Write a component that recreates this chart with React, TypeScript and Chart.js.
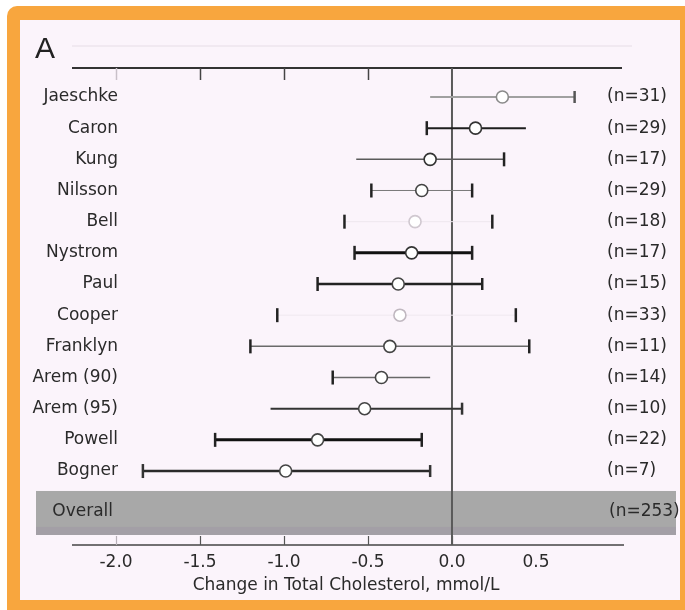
import React, { useEffect, useRef } from 'react';
import { Chart, registerables } from 'chart.js';

Chart.register(...registerables);

const W = 685;
const H = 610;

// ---- data ----
const studies = ['Jaeschke', 'Caron', 'Kung', 'Nilsson', 'Bell', 'Nystrom', 'Paul', 'Cooper', 'Franklyn', 'Arem (90)', 'Arem (95)', 'Powell', 'Bogner'];
const sampleSizes = ['(n=31)', '(n=29)', '(n=17)', '(n=29)', '(n=18)', '(n=17)', '(n=15)', '(n=33)', '(n=11)', '(n=14)', '(n=10)', '(n=22)', '(n=7)'];
const means = [0.30, 0.14, -0.13, -0.18, -0.22, -0.24, -0.32, -0.31, -0.37, -0.42, -0.52, -0.80, -0.99];
const lower = [-0.13, -0.15, -0.57, -0.48, -0.64, -0.58, -0.80, -1.04, -1.20, -0.71, -1.08, -1.41, -1.84];
const upper = [0.73, 0.44, 0.31, 0.12, 0.24, 0.12, 0.18, 0.38, 0.46, -0.13, 0.06, -0.18, -0.13];
const overallLabel = 'Overall';
const overallN = '(n=253)';
const xTicks = [-2.0, -1.5, -1.0, -0.5, 0.0, 0.5];
const xTitle = 'Change in Total Cholesterol, mmol/L';
const panelLabel = 'A';

// ---- styles ----
const lineColors = ['#a0a0a0', '#1e1e1e', '#5a5a5a', '#7a7a7a', '#eee7ee', '#111111', '#222222', '#efe8ef', '#6a6a6a', '#686868', '#333333', '#111111', '#2a2a2a'];
const lineWidths = [2, 2, 1.5, 1, 1, 3, 2.5, 1, 1.5, 1.5, 2, 3, 2.5];
const capLeft = [0, 7, 0, 7, 7, 7, 7, 7, 7, 7, 0, 7, 7];
const capRight = [6, 0, 7, 7, 7, 7, 6, 7, 7, 0, 6, 7, 6];
const capColors = ['#555555', '#222222', '#222222', '#222222', '#222222', '#222222', '#222222', '#222222', '#222222', '#222222', '#333333', '#222222', '#333333'];
const pointBorders = ['#8a8a8a', '#333333', '#333333', '#444444', '#d0c8d0', '#333333', '#444444', '#c0b8c0', '#444444', '#444444', '#444444', '#444444', '#444444'];

const FONT = "'DejaVu Sans', sans-serif";

const forestPlugin = {
  id: 'forestDecor',
  beforeDraw(chart: any) {
    const ctx = chart.ctx;
    ctx.save();
    ctx.fillStyle = '#ffffff';
    ctx.fillRect(0, 0, W, H);
    ctx.fillStyle = '#f8a63e';
    ctx.beginPath();
    (ctx as any).roundRect(7, 6, W + 20, H + 20, 10);
    ctx.fill();
    ctx.fillStyle = '#fbf4fb';
    ctx.fillRect(20, 20, 660, 580);
    ctx.restore();
  },
  beforeDatasetsDraw(chart: any) {
    const { ctx, chartArea: a, scales } = chart;
    const x = scales.x;
    const y = scales.y;
    ctx.save();
    // overall band
    const bTop = y.getPixelForValue(12.64);
    const bBot = y.getPixelForValue(14.05);
    ctx.fillStyle = '#a8a8a8';
    ctx.fillRect(36, bTop, 640, bBot - bTop);
    ctx.fillStyle = '#a39fa6';
    ctx.fillRect(36, bBot - 8, 640, 8);
    // faint upper line
    ctx.strokeStyle = '#e6dde6';
    ctx.lineWidth = 1;
    ctx.beginPath();
    ctx.moveTo(a.left, a.top - 22);
    ctx.lineTo(a.right + 8, a.top - 22);
    ctx.stroke();
    // top line
    ctx.strokeStyle = '#333333';
    ctx.lineWidth = 2;
    ctx.beginPath();
    ctx.moveTo(a.left, a.top);
    ctx.lineTo(a.right - 2, a.top);
    ctx.stroke();
    // bottom line
    ctx.strokeStyle = '#444444';
    ctx.lineWidth = 1.5;
    ctx.beginPath();
    ctx.moveTo(a.left, a.bottom);
    ctx.lineTo(a.right, a.bottom);
    ctx.stroke();
    // ticks
    xTicks.forEach((t) => {
      const px = Math.round(x.getPixelForValue(t)) + 0.5;
      if (t < 0) {
        ctx.strokeStyle = t <= -2 ? '#c8c0c8' : '#444444';
        ctx.lineWidth = 1.5;
        ctx.beginPath();
        ctx.moveTo(px, a.top);
        ctx.lineTo(px, a.top + 12);
        ctx.stroke();
      }
      if (t <= 0) {
        ctx.strokeStyle = t <= -2 ? '#b8b0b8' : '#555555';
        ctx.lineWidth = 1.2;
        ctx.beginPath();
        ctx.moveTo(px, a.bottom);
        ctx.lineTo(px, a.bottom - 9);
        ctx.stroke();
      }
    });
    // zero line
    const x0 = x.getPixelForValue(0);
    ctx.strokeStyle = '#5a5a5a';
    ctx.lineWidth = 2;
    ctx.beginPath();
    ctx.moveTo(x0, a.top);
    ctx.lineTo(x0, a.bottom);
    ctx.stroke();
    ctx.restore();
  },
  afterDatasetsDraw(chart: any) {
    const { ctx, chartArea: a, scales } = chart;
    const x = scales.x;
    const y = scales.y;
    ctx.save();
    ctx.fillStyle = '#2a2a2a';
    ctx.font = `17px ${FONT}`;
    ctx.textBaseline = 'middle';
    studies.forEach((s, i) => {
      const py = y.getPixelForValue(i);
      ctx.textAlign = 'right';
      ctx.fillText(s, 118, py);
      ctx.textAlign = 'left';
      ctx.fillText(sampleSizes[i], 607, py);
    });
    const oy = y.getPixelForValue(13.3);
    ctx.textAlign = 'right';
    ctx.fillText(overallLabel, 113, oy);
    ctx.textAlign = 'left';
    ctx.fillText(overallN, 609, oy);
    // tick labels
    ctx.textAlign = 'center';
    xTicks.forEach((t) => {
      ctx.fillText(t.toFixed(1), x.getPixelForValue(t), a.bottom + 18);
    });
    // axis title
    ctx.fillText(xTitle, 346, a.bottom + 41);
    // panel label
    ctx.font = `30px 'Liberation Sans', sans-serif`;
    ctx.textAlign = 'left';
    ctx.textBaseline = 'alphabetic';
    ctx.fillStyle = '#222222';
    ctx.fillText(panelLabel, 35, 58);
    ctx.restore();
  },
};

export default function App() {
  const ref = useRef<HTMLCanvasElement | null>(null);
  useEffect(() => {
    if (!ref.current) return;
    const datasets: any[] = [];
    datasets.push({
      type: 'scatter',
      label: 'mean',
      data: means.map((m, i) => ({ x: m, y: i })),
      pointRadius: 6,
      pointBackgroundColor: '#ffffff',
      pointBorderColor: pointBorders,
      pointBorderWidth: 1.6,
      clip: false,
    });
    studies.forEach((s, i) => {
      datasets.push({
        type: 'line',
        label: s,
        data: [
          { x: lower[i], y: i },
          { x: upper[i], y: i },
        ],
        borderColor: lineColors[i],
        borderWidth: lineWidths[i],
        pointStyle: 'line',
        rotation: 90,
        pointRadius: [capLeft[i], capRight[i]],
        pointBorderColor: capColors[i],
        pointBorderWidth: 2.5,
        clip: false,
      });
    });
    const chart = new Chart(ref.current, {
      type: 'scatter',
      data: { datasets },
      options: {
        animation: false,
        responsive: false,
        events: [],
        layout: { padding: { left: 72, right: W - 624, top: 68, bottom: H - 545 } },
        plugins: { legend: { display: false }, tooltip: { enabled: false } },
        scales: {
          x: { type: 'linear', min: -2.262, max: 1.024, display: false },
          y: { type: 'linear', min: -0.93, max: 14.373, reverse: true, display: false },
        },
      },
      plugins: [forestPlugin],
    } as any);
    return () => chart.destroy();
  }, []);
  return (
    <div style={{ position: 'absolute', left: 0, top: 0, width: W, height: H }}>
      <canvas ref={ref} width={W} height={H} style={{ width: W, height: H, display: 'block' }} />
    </div>
  );
}
